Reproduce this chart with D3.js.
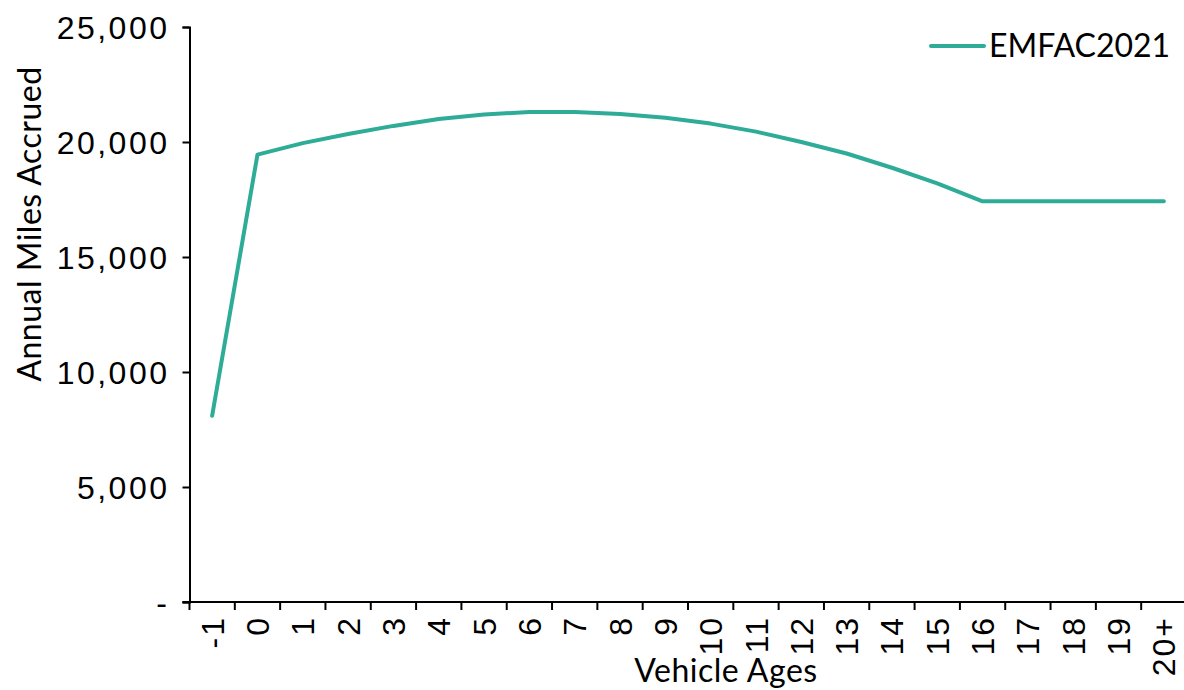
<!DOCTYPE html>
<html>
<head>
<meta charset="utf-8">
<script src="https://cdn.jsdelivr.net/npm/d3@7"></script>
<style>
  html, body { margin: 0; padding: 0; background: #fff; }
  svg { display: block; font-family: Lato, "Open Sans", sans-serif; }
</style>
</head>
<body>
<svg id="chart" width="1184" height="690"></svg>
<script>
const categories = ["-1","0","1","2","3","4","5","6","7","8","9","10","11","12","13","14","15","16","17","18","19","20+"];
const emfac2021 = [8100, 19450, 19950, 20350, 20700, 21000, 21200, 21300, 21300, 21220, 21050, 20800, 20450, 20000, 19500, 18880, 18200, 17420, 17420, 17420, 17420, 17420];
const yTicks = [0, 5000, 10000, 15000, 20000, 25000];
const seriesName = "EMFAC2021";
const xTitle = "Vehicle Ages";
const yTitle = "Annual Miles Accrued";

const svg = d3.select("#chart");
const plotLeft = 189.5, plotRight = 1186.5, plotTop = 27, plotBottom = 602;
const color = "#2eac98";
const fs = 32;

const x = d3.scaleBand().domain(categories).range([plotLeft, plotRight]).padding(0);
const y = d3.scaleLinear().domain([0, 25000]).range([plotBottom, plotTop]);

// Y axis
const yAxis = d3.axisLeft(y).tickValues(yTicks)
  .tickFormat(d => d === 0 ? "-" : d3.format(",")(d))
  .tickSize(7).tickPadding(13);
const gy = svg.append("g").attr("transform", `translate(${plotLeft},0)`).call(yAxis);
gy.select(".domain").attr("stroke", "#000").attr("stroke-width", 2);
gy.selectAll(".tick line").attr("stroke", "#000").attr("stroke-width", 2);
gy.selectAll(".tick text").attr("font-size", fs).attr("fill", "#000")
  .attr("letter-spacing", 2.5).attr("dy", "0.36em");

// X axis (labels at band centers, ticks at band boundaries)
const xAxis = d3.axisBottom(x).tickSize(0).tickPadding(0);
const gx = svg.append("g").attr("transform", `translate(0,${plotBottom})`).call(xAxis);
gx.select(".domain").attr("stroke", "#000").attr("stroke-width", 2)
  .attr("d", `M${plotLeft - 7},0H${plotRight}`);
gx.selectAll(".tick text")
  .attr("font-size", fs).attr("fill", "#000")
  .attr("letter-spacing", 2)
  .attr("text-anchor", "end")
  .attr("transform", "translate(0,14) rotate(-90)")
  .attr("x", 0).attr("y", 0).attr("dy", "0.36em");
const boundaries = categories.map(c => x(c)).concat([x(categories[categories.length - 1]) + x.bandwidth()]);
gx.selectAll(".btick").data(boundaries).enter().append("line")
  .attr("class", "btick")
  .attr("x1", d => d).attr("x2", d => d)
  .attr("y1", 0).attr("y2", 8)
  .attr("stroke", "#000").attr("stroke-width", 2);

// Line
const line = d3.line()
  .x((d, i) => x(categories[i]) + x.bandwidth() / 2)
  .y(d => y(d));
svg.append("path").datum(emfac2021)
  .attr("fill", "none").attr("stroke", color).attr("stroke-width", 4)
  .attr("stroke-linejoin", "round").attr("stroke-linecap", "round")
  .attr("d", line);

// Axis titles
svg.append("text").attr("x", 726).attr("y", 682).attr("text-anchor", "middle")
  .attr("font-size", fs).attr("letter-spacing", 0.5).attr("fill", "#000").text(xTitle);
svg.append("text").attr("transform", "translate(41,224) rotate(-90)")
  .attr("text-anchor", "middle").attr("font-size", fs).attr("letter-spacing", 0.5)
  .attr("fill", "#000").text(yTitle);

// Legend
svg.append("line").attr("x1", 931).attr("x2", 984).attr("y1", 46).attr("y2", 46)
  .attr("stroke", color).attr("stroke-width", 4).attr("stroke-linecap", "round");
svg.append("text").attr("x", 989).attr("y", 46).attr("dy", "0.35em")
  .attr("font-size", fs).attr("fill", "#000").text(seriesName);
</script>
</body>
</html>
